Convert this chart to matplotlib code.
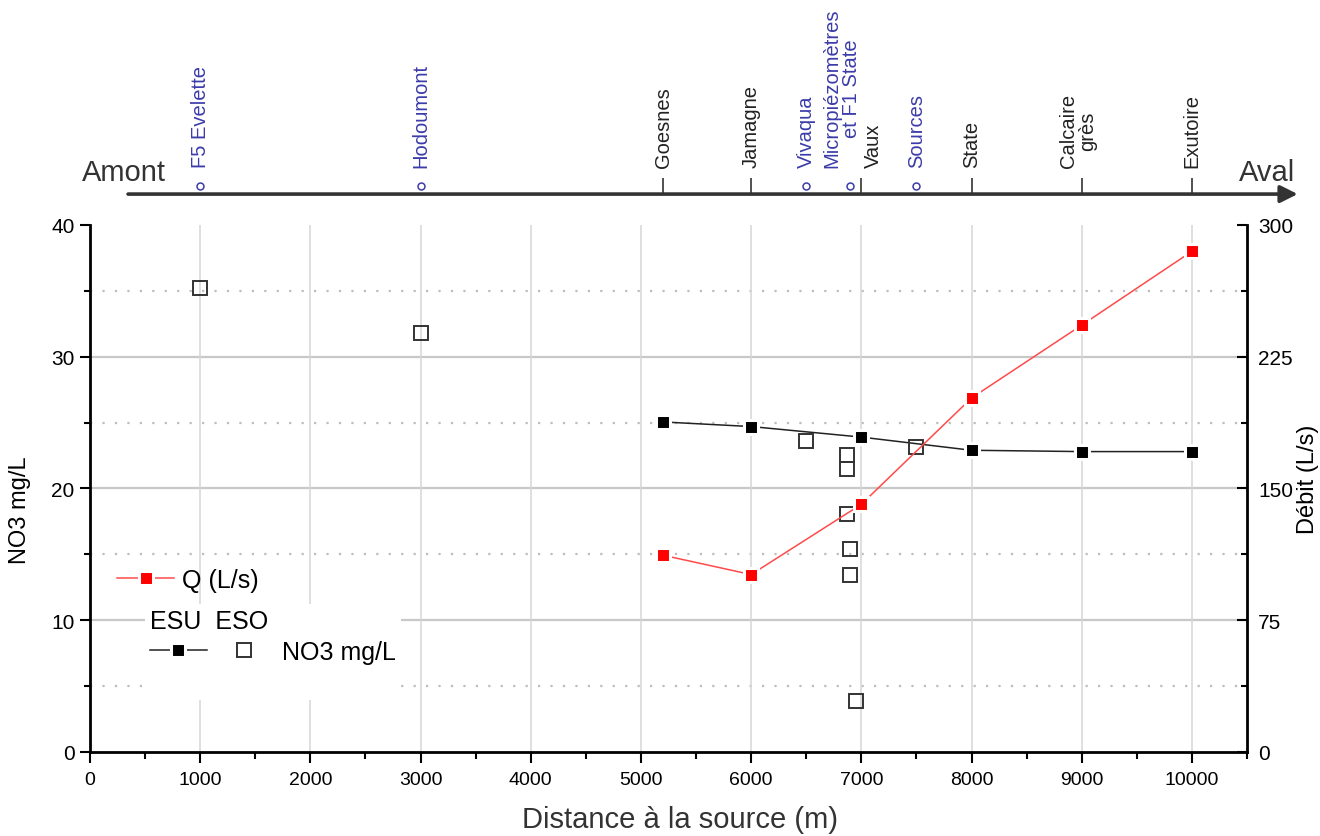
import matplotlib
matplotlib.use('Agg')
import matplotlib.pyplot as plt
from matplotlib.lines import Line2D
from matplotlib.legend_handler import HandlerTuple
from matplotlib.ticker import MultipleLocator

plt.rcParams['font.family'] = ['Liberation Sans', 'DejaVu Sans']

# stations along the stream (distance in m)
sites = ['F5 Evelette', 'Hodoumont', 'Goesnes', 'Jamagne', 'Vivaqua',
         'Micropiézomètres\net F1 State', 'Vaux', 'Sources', 'State',
         'Calcaire\ngrès', 'Exutoire']
site_dist = [1000, 3000, 5200, 6000, 6500, 6900, 7000, 7500, 8000, 9000, 10000]
site_type = ['ESO', 'ESO', 'ESU', 'ESU', 'ESO', 'ESO', 'ESU', 'ESO', 'ESU', 'ESU', 'ESU']

# surface water (ESU)
esu_dist = [5200, 6000, 7000, 8000, 9000, 10000]
esu_no3 = [25.05, 24.7, 23.9, 22.9, 22.8, 22.8]
esu_q = [112, 101, 141, 201.5, 243, 285]

# groundwater (ESO)
eso_dist = [1000, 3000, 6500, 6870, 6870, 6870, 6900, 6900, 6950, 7500]
eso_no3 = [35.2, 31.8, 23.6, 22.55, 21.5, 18.1, 15.4, 13.4, 3.85, 23.15]

blue = '#3c3caa'
dark = '#333333'

fig = plt.figure(figsize=(13.2, 8.37), dpi=100)
ax = fig.add_axes([0.0682, 0.1004, 0.8765, 0.6296])
ax2 = ax.twinx()

ax.set_xlim(0, 10500)
ax.set_ylim(0, 40)
ax2.set_ylim(0, 300)

# grid
ax.xaxis.set_major_locator(MultipleLocator(1000))
ax.xaxis.set_minor_locator(MultipleLocator(500))
ax.yaxis.set_major_locator(MultipleLocator(10))
ax.yaxis.set_minor_locator(MultipleLocator(5))
ax2.yaxis.set_major_locator(MultipleLocator(75))
ax2.yaxis.set_minor_locator(MultipleLocator(37.5))
ax.grid(axis='x', color='#d6d6d6', lw=1.1, zorder=0)
for v in [10, 20, 30]:
    ax.axhline(v, color='#c8c8c8', lw=1.6, zorder=0)
for v in [5, 15, 25, 35]:
    ax.axhline(v, color='#bdbdbd', lw=1.6, ls=(0, (1.0, 4.6)), zorder=0)
ax.set_axisbelow(True)

# series
l_esu, = ax.plot(esu_dist, esu_no3, color='#222222', lw=1.1, marker='s', ms=10.5,
                 mfc='black', mec='white', mew=2.2, zorder=3)
l_eso, = ax.plot(eso_dist, eso_no3, ls='none', marker='s', ms=10.5, mfc='none',
                 mec='#333333', mew=1.4, zorder=4)
l_q, = ax2.plot(esu_dist, esu_q, color='#ff4a4a', lw=1.1, marker='s', ms=10.5,
                mfc='red', mec='white', mew=2.2, zorder=3)

# axes look
for s in ['top', 'right']:
    ax.spines[s].set_visible(False)
for s in ['top', 'left', 'bottom']:
    ax2.spines[s].set_visible(False)
for a, s in [(ax, 'left'), (ax, 'bottom'), (ax2, 'right')]:
    a.spines[s].set_linewidth(2)
    a.spines[s].set_color('black')

ax.tick_params(axis='x', which='major', direction='out', length=8, width=1.5, labelsize=14, pad=6)
ax.tick_params(axis='x', which='minor', direction='out', length=5, width=1.5)
ax.tick_params(axis='y', which='major', direction='out', length=7, width=1.5, labelsize=15, pad=4)
ax.tick_params(axis='y', which='minor', direction='out', length=4, width=1.5)
ax2.tick_params(axis='y', which='major', direction='in', length=7, width=1.5, labelsize=15, pad=8)
ax2.tick_params(axis='y', which='minor', direction='in', length=4, width=1.5)
ax2.set_yticks([0, 75, 150, 225, 300])
ax2.set_yticklabels(['0', '75', '150', '225', '300'])

ax.set_xlabel('Distance à la source (m)', fontsize=21, color=dark)
ax.xaxis.set_label_coords(0.51, -0.10)
ax.set_ylabel('NO3 mg/L', fontsize=17)
ax.yaxis.set_label_coords(-0.051, 0.46)
ax2.set_ylabel('Débit (L/s)', fontsize=17)
ax2.yaxis.set_label_coords(1.043, 0.52)

# legends
leg1 = ax.legend([l_q], ['Q (L/s)'], loc='center left', bbox_to_anchor=(0.0233, 0.326),
                 frameon=False, fontsize=18, handlelength=2.3, handletextpad=0.32,
                 borderpad=0, borderaxespad=0)
ax.add_artist(leg1)
blank = Line2D([], [], ls='none', marker='none')
leg2 = ax.legend([(l_esu, l_eso), blank], ['NO3 mg/L', ' '], title='ESU  ESO',
                 handler_map={tuple: HandlerTuple(ndivide=None, pad=0.34)},
                 loc='upper left', bbox_to_anchor=(0.0475, 0.281), borderaxespad=0,
                 fontsize=18, title_fontsize=18, alignment='left',
                 handlelength=4.9, handletextpad=0.38, borderpad=0.2, labelspacing=0.28,
                 frameon=True, fancybox=False, framealpha=1, facecolor='white',
                 edgecolor='none')

# upstream / downstream strip above the plot
top = fig.add_axes([0.0682, 0.749, 0.8765, 0.251])
top.set_xlim(0, 10500)
top.set_ylim(210, 0)
top.axis('off')
top.annotate('', xy=(10960, 195), xytext=(345, 195),
             arrowprops=dict(arrowstyle='-|>', lw=2.6, color=dark, mutation_scale=26,
                             shrinkA=0, shrinkB=0), annotation_clip=False)
top.text(-75, 173, 'Amont', fontsize=21, color=dark, ha='left', va='center')
top.text(10940, 173, 'Aval', fontsize=21, color=dark, ha='right', va='center')

label_shift = {'Micropiézomètres\net F1 State': -80, 'Vaux': 110, 'Calcaire\ngrès': -35}
esu_x = [d for d, t in zip(site_dist, site_type) if t == 'ESU']
eso_x = [d for d, t in zip(site_dist, site_type) if t == 'ESO']
top.vlines(esu_x, 179, 194, color=dark, lw=1.2)
top.plot(eso_x, [187] * len(eso_x), ls='none', marker='o', ms=5, mfc='white',
         mec=blue, mew=1.1, clip_on=False)
for name, d, t in zip(sites, site_dist, site_type):
    top.text(d + label_shift.get(name, 0), 168, name, rotation=90, ha='center', va='bottom',
             multialignment='center', fontsize=14.5, color=blue if t == 'ESO' else '#222222',
             linespacing=1.0)

fig.savefig('out.png', dpi=100)
